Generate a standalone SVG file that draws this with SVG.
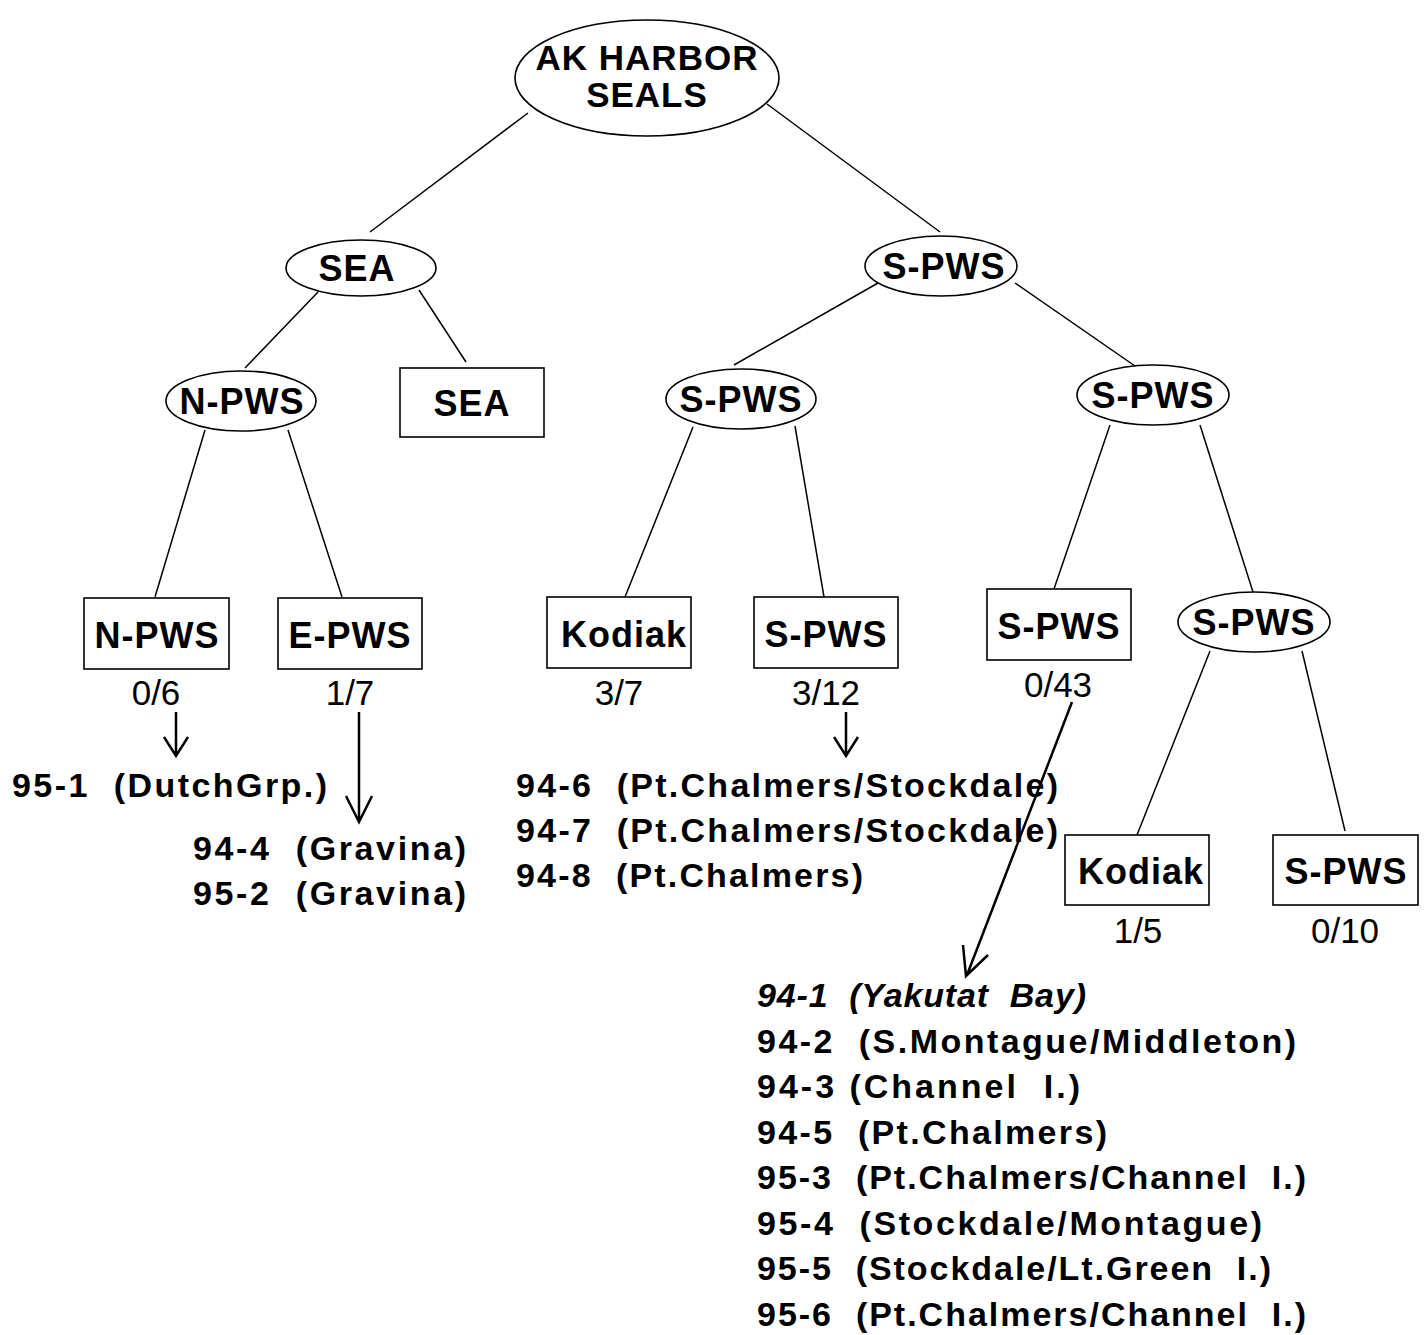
<svg xmlns="http://www.w3.org/2000/svg" width="1425" height="1335" viewBox="0 0 1425 1335">
<defs>
<style>
.n{fill:#fff;stroke:#000;stroke-width:1.6}
.t{font-family:"Liberation Sans",Arial,sans-serif;font-weight:bold;font-size:36px;letter-spacing:1px;text-anchor:middle;fill:#000}
.r{font-family:"Liberation Sans",Arial,sans-serif;font-weight:bold;font-size:35px;letter-spacing:1px;text-anchor:middle;fill:#000}
.c{font-family:"Liberation Sans",Arial,sans-serif;font-size:35px;text-anchor:middle;fill:#000}
.l{font-family:"Liberation Sans",Arial,sans-serif;font-weight:bold;font-size:34px;fill:#000}
.e{stroke:#000;stroke-width:1.5;fill:none}
.a{stroke:#000;stroke-width:2.5;fill:none}
</style>
</defs>
<g id="connectors">
<line class="e" x1="528" y1="113" x2="370" y2="232"/>
<line class="e" x1="767" y1="104" x2="940" y2="232"/>
<line class="e" x1="318" y1="292" x2="245" y2="368"/>
<line class="e" x1="419" y1="290" x2="466" y2="362"/>
<line class="e" x1="878" y1="283" x2="734" y2="365"/>
<line class="e" x1="1015" y1="283" x2="1135" y2="366"/>
<line class="e" x1="205" y1="430" x2="155" y2="597"/>
<line class="e" x1="288" y1="430" x2="342" y2="597"/>
<line class="e" x1="693" y1="427" x2="625" y2="597"/>
<line class="e" x1="795" y1="426" x2="824" y2="597"/>
<line class="e" x1="1110" y1="425" x2="1054" y2="589"/>
<line class="e" x1="1200" y1="425" x2="1253" y2="592"/>
<line class="e" x1="1210" y1="651" x2="1137" y2="835"/>
<line class="e" x1="1302" y1="651" x2="1345" y2="831"/>
<path class="a" d="M176 712 V755 M164 737 L176 756 L188 737"/>
<path class="a" d="M359 712 V822 M346 796 L359 822 L372 796"/>
<path class="a" d="M846 712 V755 M834 737 L846 756 L858 737"/>
<path class="a" d="M1072 702 L967 975 M963 945 L966 976 L988 955"/>
</g>
<g id="root"><ellipse class="n" cx="647" cy="78" rx="132" ry="58"/><text class="r" x="647" y="70">AK HARBOR</text><text class="r" x="647" y="107">SEALS</text></g>
<g id="sea1"><ellipse class="n" cx="361" cy="268" rx="75" ry="28"/><text class="t" x="357" y="281">SEA</text></g>
<g id="spws1"><ellipse class="n" cx="941" cy="266" rx="76" ry="30"/><text class="t" x="944" y="279">S-PWS</text></g>
<g id="npws2"><ellipse class="n" cx="241" cy="401" rx="75" ry="30"/><text class="t" x="242" y="414">N-PWS</text></g>
<g id="seabox"><rect class="n" x="400" y="368" width="144" height="69"/><text class="t" x="472" y="416">SEA</text></g>
<g id="spws2a"><ellipse class="n" cx="741" cy="399" rx="75" ry="30"/><text class="t" x="741" y="412">S-PWS</text></g>
<g id="spws2b"><ellipse class="n" cx="1153" cy="395" rx="76" ry="30"/><text class="t" x="1153" y="408">S-PWS</text></g>
<g id="npwsbox"><rect class="n" x="84" y="598" width="145" height="71"/><text class="t" x="157" y="648">N-PWS</text><text class="c" x="156" y="705">0/6</text></g>
<g id="epwsbox"><rect class="n" x="278" y="598" width="144" height="71"/><text class="t" x="350" y="648">E-PWS</text><text class="c" x="350" y="705">1/7</text></g>
<g id="kodiak1"><rect class="n" x="547" y="597" width="144" height="71"/><text class="t" x="624" y="647">Kodiak</text><text class="c" x="619" y="705">3/7</text></g>
<g id="spwsbox1"><rect class="n" x="754" y="597" width="144" height="71"/><text class="t" x="826" y="647">S-PWS</text><text class="c" x="826" y="705">3/12</text></g>
<g id="spwsbox2"><rect class="n" x="987" y="589" width="144" height="71"/><text class="t" x="1059" y="639">S-PWS</text><text class="c" x="1058" y="697">0/43</text></g>
<g id="spws3"><ellipse class="n" cx="1254" cy="622" rx="76" ry="30"/><text class="t" x="1254" y="635">S-PWS</text></g>
<g id="kodiak2"><rect class="n" x="1065" y="835" width="144" height="70"/><text class="t" x="1141" y="884">Kodiak</text><text class="c" x="1138" y="943">1/5</text></g>
<g id="spwsbox3"><rect class="n" x="1273" y="835" width="145" height="70"/><text class="t" x="1346" y="884">S-PWS</text><text class="c" x="1345" y="943">0/10</text></g>
<g id="lists">
<text class="l" x="12" y="797" textLength="315" lengthAdjust="spacing" xml:space="preserve">95-1  (DutchGrp.)</text>
<text class="l" x="193" y="860" textLength="273" lengthAdjust="spacing" xml:space="preserve">94-4  (Gravina)</text>
<text class="l" x="193" y="905" textLength="273" lengthAdjust="spacing" xml:space="preserve">95-2  (Gravina)</text>
<text class="l" x="516" y="797" textLength="542" lengthAdjust="spacing" xml:space="preserve">94-6  (Pt.Chalmers/Stockdale)</text>
<text class="l" x="516" y="842" textLength="542" lengthAdjust="spacing" xml:space="preserve">94-7  (Pt.Chalmers/Stockdale)</text>
<text class="l" x="516" y="887" textLength="347" lengthAdjust="spacing" xml:space="preserve">94-8  (Pt.Chalmers)</text>
<text class="l" x="757" y="1007" font-style="italic" textLength="329" lengthAdjust="spacing" xml:space="preserve">94-1  (Yakutat  Bay)</text>
<text class="l" x="757" y="1053" textLength="539" lengthAdjust="spacing" xml:space="preserve">94-2  (S.Montague/Middleton)</text>
<text class="l" x="757" y="1098" textLength="323" lengthAdjust="spacing" xml:space="preserve">94-3 (Channel  I.)</text>
<text class="l" x="757" y="1144" textLength="350" lengthAdjust="spacing" xml:space="preserve">94-5  (Pt.Chalmers)</text>
<text class="l" x="757" y="1189" textLength="549" lengthAdjust="spacing" xml:space="preserve">95-3  (Pt.Chalmers/Channel  I.)</text>
<text class="l" x="757" y="1235" textLength="505" lengthAdjust="spacing" xml:space="preserve">95-4  (Stockdale/Montague)</text>
<text class="l" x="757" y="1280" textLength="514" lengthAdjust="spacing" xml:space="preserve">95-5  (Stockdale/Lt.Green  I.)</text>
<text class="l" x="757" y="1326" textLength="549" lengthAdjust="spacing" xml:space="preserve">95-6  (Pt.Chalmers/Channel  I.)</text>
</g>
</svg>
